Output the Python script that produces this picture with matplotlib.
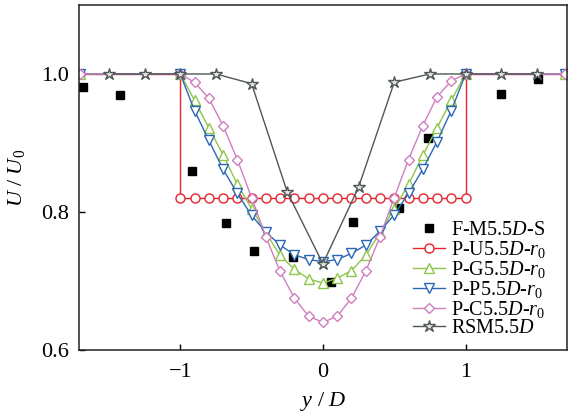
import matplotlib
matplotlib.use('Agg')
import matplotlib.pyplot as plt

plt.rcParams['font.family'] = ['Liberation Serif', 'DejaVu Serif']
plt.rcParams['mathtext.fontset'] = 'custom'
plt.rcParams['mathtext.rm'] = 'Liberation Serif'
plt.rcParams['mathtext.it'] = 'Liberation Serif:italic'

# measured points
fm_x = [-1.68, -1.42, -0.92, -0.68, -0.48, -0.21, 0.06, 0.21, 0.53, 0.74, 1.25, 1.51]
fm_y = [0.981, 0.970, 0.860, 0.784, 0.744, 0.735, 0.698, 0.786, 0.806, 0.907, 0.971, 0.993]

# uniform profile
pu_x = [-1.7, -1.0, -1.0, -0.9, -0.8, -0.7, -0.6, -0.5, -0.4, -0.3, -0.2, -0.1, 0.0,
        0.1, 0.2, 0.3, 0.4, 0.5, 0.6, 0.7, 0.8, 0.9, 1.0, 1.0, 1.7]
pu_y = [1.0, 1.0, 0.82, 0.82, 0.82, 0.82, 0.82, 0.82, 0.82, 0.82, 0.82, 0.82, 0.82,
        0.82, 0.82, 0.82, 0.82, 0.82, 0.82, 0.82, 0.82, 0.82, 0.82, 1.0, 1.0]

prof_x = [-1.7, -1.0, -0.9, -0.8, -0.7, -0.6, -0.5, -0.4, -0.3, -0.2, -0.1, 0.0,
          0.1, 0.2, 0.3, 0.4, 0.5, 0.6, 0.7, 0.8, 0.9, 1.0, 1.7]
pg_y = [1.0, 1.0, 0.962, 0.922, 0.883, 0.840, 0.805, 0.770, 0.737, 0.717, 0.703, 0.697,
        0.704, 0.715, 0.737, 0.770, 0.805, 0.840, 0.882, 0.922, 0.962, 1.0, 1.0]
pp_y = [1.0, 1.0, 0.947, 0.904, 0.862, 0.827, 0.795, 0.771, 0.752, 0.738, 0.731, 0.728,
        0.731, 0.740, 0.752, 0.772, 0.796, 0.827, 0.862, 0.902, 0.947, 1.0, 1.0]
pc_y = [1.0, 1.0, 0.988, 0.965, 0.925, 0.876, 0.821, 0.764, 0.714, 0.675, 0.649, 0.640,
        0.649, 0.675, 0.714, 0.764, 0.821, 0.876, 0.925, 0.967, 0.990, 1.0, 1.0]

rsm_x = [-1.5, -1.25, -1.0, -0.75, -0.5, -0.25, 0.0, 0.25, 0.5, 0.75, 1.0, 1.25, 1.5]
rsm_y = [1.0, 1.0, 1.0, 1.0, 0.986, 0.829, 0.725, 0.836, 0.988, 1.0, 1.0, 1.0, 1.0]

fig = plt.figure(figsize=(5.68, 4.13), dpi=100)
ax = fig.add_axes([0.139, 0.1525, 0.859, 0.8355])

lw = 1.0
ax.plot(fm_x, fm_y, 's', color='black', markersize=5.5, label=r'F-M5.5$D$-S')
ax.plot(pu_x, pu_y, '-o', color='#e8232d', lw=lw, markersize=6.5,
        markerfacecolor='white', markeredgewidth=1.0, label=r'P-U5.5$D$-$r_0$')
ax.plot(prof_x, pg_y, '-^', color='#8dc649', lw=lw, markersize=7.5,
        markerfacecolor='white', markeredgewidth=1.0, label=r'P-G5.5$D$-$r_0$')
ax.plot(prof_x, pp_y, '-v', color='#2b66b5', lw=lw, markersize=7.5,
        markerfacecolor='white', markeredgewidth=1.0, label=r'P-P5.5$D$-$r_0$')
ax.plot(prof_x, pc_y, '-D', color='#cf7fbe', lw=lw, markersize=5.5,
        markerfacecolor='white', markeredgewidth=1.0, label=r'P-C5.5$D$-$r_0$')
ax.plot(rsm_x, rsm_y, '-*', color='#4f5758', lw=lw, markersize=9,
        markerfacecolor='#e4e6e6', markeredgewidth=1.0, label=r'RSM5.5$D$')

ax.set_xlim(-1.71, 1.71)
ax.set_ylim(0.6, 1.1)
ax.set_xticks([-1, 0, 1])
ax.set_yticks([0.6, 0.8, 1.0])
ax.set_yticklabels(['0.6', '0.8', '1.0'])
ax.tick_params(direction='in', labelsize=16, length=4, width=1)
ax.tick_params(axis='x', pad=9)
ax.tick_params(axis='y', pad=7)
for s in ax.spines.values():
    s.set_linewidth(1.1)
    s.set_color('#222222')

ax.set_xlabel(r'$y\ /\ D$', fontsize=16, labelpad=6)
ax.set_ylabel(r'$U\ /\ U_0$', fontsize=16, labelpad=10)

ax.legend(loc='lower right', bbox_to_anchor=(0.982, 0.0), frameon=False,
          fontsize=14.5, labelspacing=-0.05, handlelength=1.6, handletextpad=0.3,
          borderaxespad=0.2)

fig.savefig('out.png', dpi=100)
